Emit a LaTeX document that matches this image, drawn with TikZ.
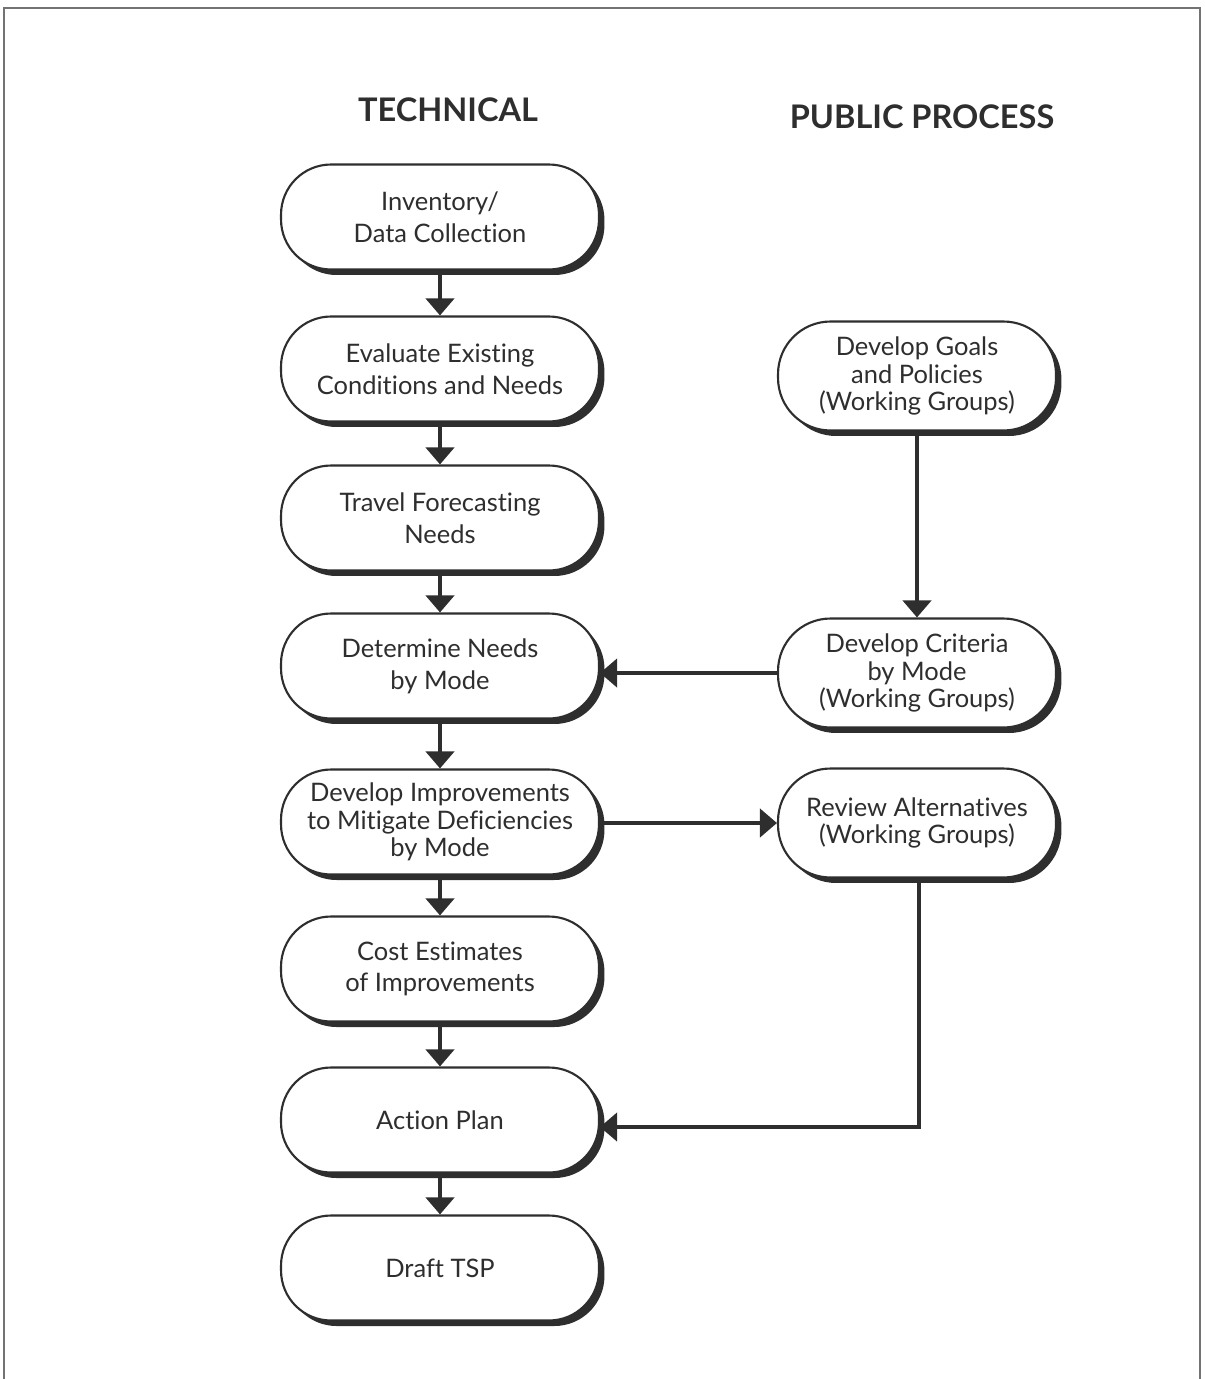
\documentclass[tikz,border=0pt]{standalone}
\usepackage{fontspec}
\setmainfont{Lato}[Ligatures={NoCommon}]
\usetikzlibrary{arrows.meta,shadows}
\definecolor{ink}{HTML}{2E2E2E}
\begin{document}
\begin{tikzpicture}[x=0.02cm,y=-0.02cm,
  basebox/.style={draw=ink, line width=1.2pt, fill=white, align=center,
    text=ink, font=\fontsize{14.5}{15.5}\selectfont,
    drop shadow={shadow xshift=0.11cm, shadow yshift=-0.11cm, fill=ink, opacity=1}},
  lbox/.style={basebox, minimum width=6.36cm, minimum height=2.1cm, rounded corners=1.0cm},
  rbox/.style={basebox, minimum width=5.56cm, minimum height=2.18cm, rounded corners=1.05cm},
  arr/.style={draw=ink, line width=2.3pt, -{Triangle[width=0.56cm,length=0.34cm]}},
  head/.style={text=ink, font=\bfseries\fontsize{18.5}{21}\selectfont},
  frame/.style={draw=black!55, line width=1.4pt}
]
\useasboundingbox (0,0) rectangle (1204,1379);
\draw[frame] (4,1379) -- (4,8) -- (1200,8) -- (1200,1379);

\node[head] (h1) at (448,110) {TECHNICAL};
\node[head] (h2) at (922,117) {PUBLIC PROCESS};

\node[lbox] (n1) at (440,217) {Inventory/\\[2.5pt]Data Collection};
\node[lbox] (n2) at (440,369) {Evaluate Existing\\[2.5pt]Conditions and Needs};
\node[lbox] (n3) at (440,518) {Travel Forecasting\\[2.5pt]Needs};
\node[lbox] (n4) at (440,666) {Determine Needs\\[2.5pt]by Mode};
\node[lbox] (n5) at (440,822) {Develop Improvements\\to Mitigate Deficiencies\\by Mode};
\node[lbox] (n6) at (440,969) {Cost Estimates\\[2.5pt]of Improvements};
\node[lbox] (n7) at (440,1120) {Action Plan};
\node[lbox] (n8) at (440,1268) {Draft TSP};

\node[rbox] (r1) at (917,376) {Develop Goals\\and Policies\\(Working Groups)};
\node[rbox] (r2) at (917,673) {Develop Criteria\\by Mode\\(Working Groups)};
\node[rbox] (r3) at (917,823) {Review Alternatives\\(Working Groups)};

\draw[arr] (n1.south) -- (n2.north);
\draw[arr] (n2.south) -- (n3.north);
\draw[arr] (n3.south) -- (n4.north);
\draw[arr] (n4.south) -- (n5.north);
\draw[arr] (n5.south) -- (n6.north);
\draw[arr] (n6.south) -- (n7.north);
\draw[arr] (n7.south) -- (n8.north);

\draw[arr] (r1.south) -- (r2.north);
\draw[arr] (r2.west) -- (n4.east |- r2.west);
\draw[arr] (n5.east |- r3.west) -- (r3.west);
\coordinate (c1) at (919,1127);
\draw[arr] (r3.south -| c1) -- (c1) -- (n7.east |- c1);
\end{tikzpicture}
\end{document}
